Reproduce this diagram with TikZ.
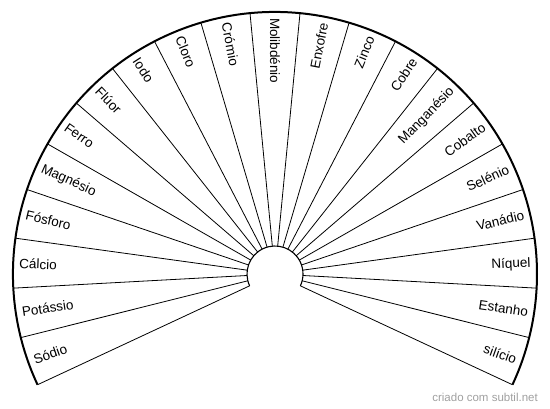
\documentclass[tikz,border=0pt]{standalone}
\usepackage{fontspec}
\setmainfont{Liberation Sans}
\definecolor{wm}{HTML}{A0A0A0}
\begin{document}
\begin{tikzpicture}[x=1pt,y=1pt,
  rim/.style={line width=2pt},
  spoke/.style={line width=0.8pt},
  hub/.style={line width=1.1pt},
  lab/.style={font=\fontsize{13.5}{15}\selectfont, inner sep=0pt},
  mark text/.style={font=\fontsize{11.5}{13}\selectfont, text=wm, inner sep=0pt}]
\useasboundingbox (0,0) rectangle (550,408);
\def\R{262}
\def\r{28}
\begin{scope}[shift={(275,134)}]
  \coordinate (O) at (0,0);
  \foreach \i in {0,...,21} {
    \pgfmathsetmacro\ang{205-\i*230/21}
    \draw[spoke] (\ang:\r) -- (\ang:\R);
  }
  \draw[hub] (205:\r) arc[start angle=205, end angle=-25, radius=\r];
  \draw[rim] (205:\R) arc[start angle=205, end angle=-25, radius=\R];
  \foreach \name [count=\i from 0] in {Sódio,Potássio,Cálcio,Fósforo,Magnésio,Ferro,Flúor,Iodo,Cloro,Crómio,Molibdénio,Enxofre,Zinco,Cobre,Manganésio,Cobalto,Selénio,Vanádio,Níquel,Estanho,silício} {
    \pgfmathsetmacro\ang{205-(\i+0.5)*230/21}
    \ifdim\ang pt>89pt
      \node[lab, anchor=west, rotate=\ang-180] (L\i) at (\ang:\R-6) {\name};
    \else
      \node[lab, anchor=east, rotate=\ang] (L\i) at (\ang:\R-6) {\name};
    \fi
  }
\end{scope}
\node[mark text, anchor=east] (wmk) at (538,11) {criado com subtil.net};
\end{tikzpicture}
\end{document}
